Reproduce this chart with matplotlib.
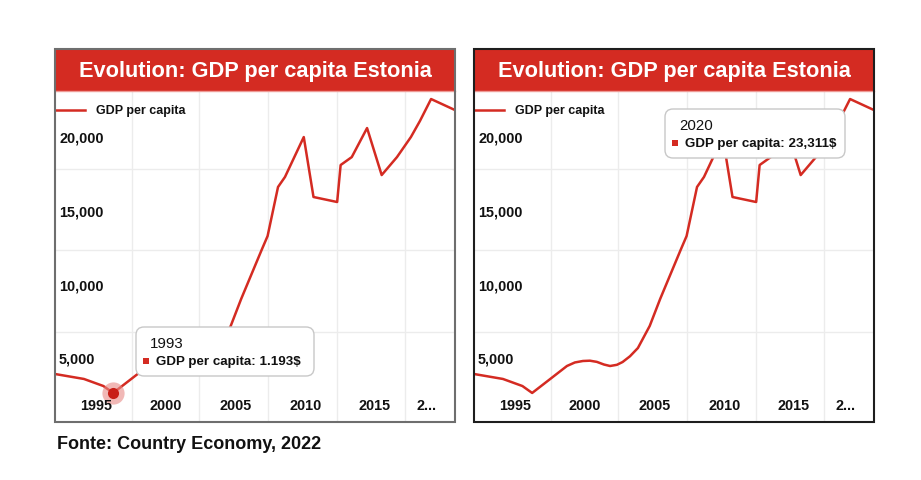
import matplotlib
matplotlib.use('Agg')
import matplotlib.pyplot as plt
from matplotlib.patches import Rectangle, FancyBboxPatch
from matplotlib.lines import Line2D
from matplotlib.transforms import blended_transform_factory, IdentityTransform

plt.rcParams['font.family'] = ['Liberation Sans', 'DejaVu Sans']

# ---- data ----
years = [1992.0, 1994.1, 1995.5, 1996.2, 1997.5, 1998.7, 1999.27, 1999.85, 2000.35, 2000.85,
         2001.36, 2001.8, 2002.29, 2002.7, 2003.23, 2003.8, 2004.65, 2005.4, 2006.9, 2007.3,
         2008.05, 2008.55, 2009.9, 2010.6, 2012.3, 2012.55, 2013.35, 2014.45, 2015.5, 2016.6,
         2017.6, 2018.25, 2019.05, 2020.75]
gdp = [3980, 3640, 3160, 2690, 3640, 4520, 4760, 4860, 4880, 4800,
       4620, 4520, 4600, 4790, 5180, 5740, 7240, 9070, 12460, 13340,
       16670, 17350, 20060, 15990, 15650, 18160, 18700, 20670, 17480, 18700,
       20060, 21150, 22640, 21900]
x_ticks = [1995, 2000, 2005, 2010, 2015, 2018.7]
x_tick_labels = ['1995', '2000', '2005', '2010', '2015', '2...']
y_ticks = [5000, 10000, 15000, 20000]
y_tick_labels = ['5,000', '10,000', '15,000', '20,000']
title = 'Evolution: GDP per capita Estonia'
series_name = 'GDP per capita'
tooltip_years = ['1993', '2020']
tooltip_values = ['1.193$', '23,311$']
source = 'Fonte: Country Economy, 2022'

RED = '#d42b22'
W, H = 921, 481
fig = plt.figure(figsize=(W / 100, H / 100), dpi=100)
fig.patch.set_facecolor('white')

def fx(x):
    return x / W

def fy(y):
    return 1 - y / H

panels = [
    dict(x0=55, border='#6e6e6e', tip=0, tip_box=(136, 328, 314, 377), marker=True),
    dict(x0=474, border='#1e1e1e', tip=1, tip_box=(665, 110, 845, 159), marker=False),
]
PW = 400
TOP, HDR, BOT = 50, 92, 423

vgrid = [1997.55, 2002.36, 2007.32, 2012.28, 2017.17]
hgrid = [6830, 12390, 17890]

for p in panels:
    x0 = p['x0']
    ax = fig.add_axes([fx(x0), fy(BOT), PW / W, (BOT - HDR) / H])
    ax.set_xlim(1992.02, 2020.77)
    ax.set_ylim(719, 23185)
    for s in ax.spines.values():
        s.set_visible(False)
    ax.set_xticks([])
    ax.set_yticks([])
    for g in vgrid:
        ax.axvline(g, color='#ececec', lw=1, zorder=0)
    for g in hgrid:
        ax.axhline(g, color='#ececec', lw=1, zorder=0)
    ax.plot(years, gdp, color=RED, lw=1.8, zorder=3, solid_joinstyle='round')
    if p['marker']:
        i = gdp.index(min(gdp))
        ax.plot(years[i], gdp[i], 'o', ms=16, color='#e88a86', alpha=0.6, mec='none', zorder=4)
        ax.plot(years[i], gdp[i], 'o', ms=8, color='#c81f18', mec='none', zorder=5)
    bt = blended_transform_factory(ax.transData, ax.transAxes)
    for t, lab in zip(x_ticks, x_tick_labels):
        ax.text(t, 0.052, lab, transform=bt, ha='center', va='center', fontsize=10.4,
                fontweight='bold', color='#111111', zorder=6)
    bt2 = blended_transform_factory(ax.transAxes, ax.transData)
    for t, lab in zip(y_ticks, y_tick_labels):
        ax.text(0.01, t, lab, transform=bt2, ha='left', va='center', fontsize=10.4,
                fontweight='bold', color='#111111', zorder=6)

    # header
    fig.add_artist(Rectangle((fx(x0), fy(HDR)), PW / W, (HDR - TOP) / H,
                             transform=fig.transFigure, facecolor=RED, edgecolor='none', zorder=2))
    fig.add_artist(Line2D([fx(x0), fx(x0 + PW)], [fy(HDR), fy(HDR)], transform=fig.transFigure,
                          color='#ee9a95', lw=1, zorder=2))
    fig.text(fx(x0 + PW / 2), fy((TOP + HDR) / 2 + 1), title, ha='center', va='center',
             color='white', fontsize=15.7, fontweight='bold', zorder=3)
    # border
    fig.add_artist(Rectangle((fx(x0), fy(BOT)), PW / W, (BOT - TOP) / H,
                             transform=fig.transFigure, facecolor='none',
                             edgecolor=p['border'], lw=1.5, zorder=4))
    # legend
    fig.add_artist(Line2D([fx(x0), fx(x0 + 30)], [fy(111), fy(111)], transform=fig.transFigure,
                          color=RED, lw=1.8, zorder=3))
    fig.text(fx(x0 + 41), fy(111), series_name, ha='left', va='center', fontsize=9,
             fontweight='bold', color='#111111', zorder=3)

    # tooltip
    bx0, by0, bx1, by1 = p['tip_box']
    box = FancyBboxPatch((bx0, H - by1), bx1 - bx0, by1 - by0,
                         boxstyle='round,pad=0,rounding_size=8', transform=IdentityTransform(),
                         facecolor='white', edgecolor='#c8c8c8', lw=1, zorder=5)
    fig.add_artist(box)
    k = p['tip']
    fig.text(fx(bx0 + 14), fy(by0 + 16), tooltip_years[k], ha='left', va='center',
             fontsize=10.8, color='#111111', zorder=6)
    fig.add_artist(Rectangle((bx0 + 7, H - (by0 + 34) - 3), 6, 6, transform=IdentityTransform(),
                             facecolor=RED, edgecolor='none', zorder=6))
    fig.text(fx(bx0 + 20), fy(by0 + 34), series_name + ': ' + tooltip_values[k], ha='left',
             va='center', fontsize=9.6, fontweight='bold', color='#111111', zorder=6)

fig.text(fx(57), fy(445), source, ha='left', va='center', fontsize=13, fontweight='bold',
         color='#111111')

fig.savefig('out.png', dpi=100, facecolor='white')
